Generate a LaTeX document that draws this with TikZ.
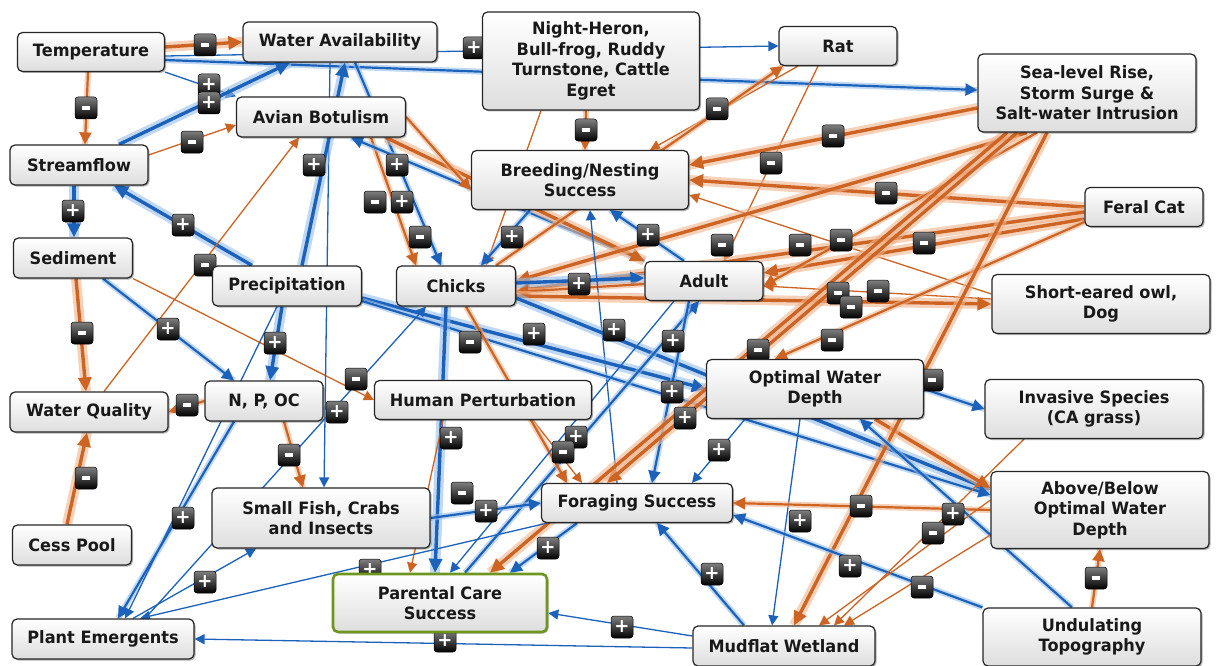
\documentclass[tikz,border=0pt]{standalone}
\usepackage{fontspec}
\newfontfamily\nodefont{DejaVu Sans}[FakeStretch=0.95]
\usetikzlibrary{arrows.meta,shadows,calc}
\definecolor{pb}{RGB}{28,98,186}
\definecolor{pbh}{RGB}{150,190,235}
\definecolor{no}{RGB}{205,100,35}
\definecolor{noh}{RGB}{240,180,140}
\definecolor{grn}{RGB}{110,150,30}
\pgfdeclarelayer{edges}\pgfdeclarelayer{signs}
\pgfsetlayers{edges,signs,main}
\tikzset{
  box/.style={draw=black!85, line width=1.2pt, rounded corners=5pt, top color=white, bottom color=black!13,
    align=center, text=black!90, inner sep=2pt,
    font=\nodefont\bfseries\fontsize{17}{20.5}\selectfont,
    drop shadow={shadow xshift=1.5pt, shadow yshift=-1.5pt, opacity=0.3, fill=black}},
  pbox/.style={box, draw=grn, line width=2.6pt},
  sg/.style={rounded corners=3pt, top color=black!50, bottom color=black, draw=black, line width=0.5pt,
    minimum width=22pt, minimum height=22pt, inner sep=0pt, text=white,
    font=\nodefont\bfseries\fontsize{19}{19}\selectfont},
  P1/.style={draw=pb, line width=1.3pt, -{Triangle[length=10pt,width=10pt]}},
  P2/.style={draw=pb, line width=2.2pt, -{Triangle[length=12pt,width=12pt]},
    preaction={draw=pbh, line width=6pt, arrows=-, draw opacity=0.6}},
  P3/.style={draw=pb, line width=3.4pt, -{Triangle[length=14pt,width=13pt]},
    preaction={draw=pbh, line width=10pt, arrows=-, draw opacity=0.6}},
  N1/.style={draw=no, line width=1.3pt, -{Triangle[length=10pt,width=10pt]}},
  N2/.style={draw=no, line width=2.2pt, -{Triangle[length=12pt,width=12pt]},
    preaction={draw=noh, line width=6pt, arrows=-, draw opacity=0.6}},
  N3/.style={draw=no, line width=3.4pt, -{Triangle[length=14pt,width=13pt]},
    preaction={draw=noh, line width=10pt, arrows=-, draw opacity=0.6}},
}
\begin{document}
\begin{tikzpicture}[x=1pt,y=-1pt]
\useasboundingbox (0,0) rectangle (1217,666);
% ---------- nodes ----------
\node[box, minimum width=147pt, minimum height=39pt] (temp) at (91,52) {Temperature};
\node[box, minimum width=194pt, minimum height=40pt] (wava) at (340,42) {Water Availability};
\node[box, minimum width=217pt, minimum height=98pt] (heron) at (591,61) {Night-Heron,\\Bull-frog, Ruddy\\Turnstone, Cattle\\Egret};
\node[box, minimum width=118pt, minimum height=39pt] (rat) at (838,46) {Rat};
\node[box, minimum width=218pt, minimum height=78pt] (sea) at (1087,93) {Sea-level Rise,\\Storm Surge \&\\Salt-water Intrusion};
\node[box, minimum width=169pt, minimum height=40pt] (avian) at (321,117) {Avian Botulism};
\node[box, minimum width=138pt, minimum height=40pt] (stream) at (79,165) {Streamflow};
\node[box, minimum width=217pt, minimum height=59pt] (breed) at (580,180) {Breeding/Nesting\\Success};
\node[box, minimum width=118pt, minimum height=39pt] (cat) at (1144,207) {Feral Cat};
\node[box, minimum width=119pt, minimum height=40pt] (sed) at (73,258) {Sediment};
\node[box, minimum width=149pt, minimum height=40pt] (precip) at (287,286) {Precipitation};
\node[box, minimum width=119pt, minimum height=40pt] (chicks) at (456,286) {Chicks};
\node[box, minimum width=118pt, minimum height=39pt] (adult) at (704,281) {Adult};
\node[box, minimum width=218pt, minimum height=59pt] (owl) at (1101,304) {Short-eared owl,\\Dog};
\node[box, minimum width=158pt, minimum height=40pt] (wq) at (89,412) {Water Quality};
\node[box, minimum width=118pt, minimum height=40pt] (npoc) at (264,401) {N, P, OC};
\node[box, minimum width=217pt, minimum height=39pt] (human) at (483,400) {Human Perturbation};
\node[box, minimum width=217pt, minimum height=59pt] (owd) at (815,389) {Optimal Water\\Depth};
\node[box, minimum width=218pt, minimum height=59pt] (inv) at (1094,409) {Invasive Species\\(CA grass)};
\node[box, minimum width=218pt, minimum height=60pt] (fish) at (321,518) {Small Fish, Crabs\\and Insects};
\node[box, minimum width=191pt, minimum height=39pt] (forage) at (637,503) {Foraging Success};
\node[box, minimum width=218pt, minimum height=77pt] (above) at (1100,510) {Above/Below\\Optimal Water\\Depth};
\node[box, minimum width=119pt, minimum height=40pt] (cess) at (72,545) {Cess Pool};
\node[pbox, minimum width=214pt, minimum height=58pt] (parent) at (440,603) {Parental Care\\Success};
\node[box, minimum width=182pt, minimum height=40pt] (plant) at (103,639) {Plant Emergents};
\node[box, minimum width=182pt, minimum height=40pt] (mud) at (784,646) {Mudflat Wetland};
\node[box, minimum width=218pt, minimum height=58pt] (undul) at (1092,637) {Undulating\\Topography};
% ---------- connectors ----------
\begin{pgfonlayer}{edges}
\fill[white] (0,0) rectangle (1217,666);
\draw[N3] ([yshift=5]temp.east) -- (wava.west);
\draw[P1] ([yshift=-4]temp.east) -- (rat.west);
\draw[P2] ([yshift=-8]temp.east) -- ([yshift=3]sea.west);
\draw[N2] ([xshift=-3]temp.south) -- ([xshift=6]stream.north);
\draw[P1] (temp.south east) -- (avian.north west);
\draw[P3] ([xshift=40]stream.north) -- ([xshift=-50]wava.south);
\draw[N1] ([yshift=10]stream.east) -- ([yshift=-8]avian.west);
\draw[P3] ([xshift=-5]stream.south) -- ([xshift=1]sed.north);
\draw[P3] ([xshift=-35]precip.north) -- ([xshift=35]stream.south);
\draw[N3] ([xshift=3]sed.south) -- ([xshift=-3]wq.north);
\draw[P2] ([xshift=30]sed.south) -- ([xshift=-30]npoc.north);
\draw[N1] (sed.south east) -- (human.west);
\draw[N1] ([xshift=15]wq.north) -- ([xshift=-22]avian.south);
\draw[N3] ([xshift=-5]cess.north) -- ([xshift=-2]wq.south);
\draw[N2] (npoc.west) -- (wq.east);
\draw[N2] ([xshift=20]npoc.south) -- ([xshift=-18]fish.north);
\draw[P3] ([xshift=-5]precip.south) -- ([xshift=6]npoc.north);
\draw[P1] ([xshift=-10]wava.south) -- ([xshift=3]fish.north);
\draw[P3] ([xshift=15]precip.north) -- ([xshift=5]wava.south);
\draw[P2] ([xshift=15]wava.south) -- ([xshift=-15]chicks.north);
\draw[N2] ([xshift=50]avian.south) -- ([xshift=-40]chicks.north);
\draw[P2] (adult.north west) -- ([xshift=30]avian.south);
\draw[N3] ([xshift=65]avian.south) -- (adult.north west);
\draw[N2] (avian.east) -- ([yshift=-10]breed.west);
\draw[N2] ([xshift=-5]heron.south) -- ([xshift=5]breed.north);
\draw[N1] ([xshift=-50]heron.south) -- ([xshift=30]chicks.north);
\draw[N1] ([xshift=-40]rat.south) -- ([xshift=70]breed.north);
\draw[N2] ([xshift=40]chicks.north) -- ([xshift=-55]rat.south);
\draw[N1] ([xshift=-20]rat.south) -- ([xshift=20]adult.north);
\draw[N3] ([yshift=-15]sea.west) -- ([yshift=15]breed.east);
\draw[N3] (cat.west) -- (breed.east);
\draw[N1] ([yshift=10]owl.west) -- ([yshift=-15]breed.east);
\draw[N3] ([yshift=-5]cat.west) -- ([yshift=-5]chicks.east);
\draw[N3] ([xshift=-60]sea.south) -- ([yshift=5]chicks.east);
\draw[N3] ([yshift=-12]cat.west) -- ([yshift=8]adult.east);
\draw[N2] ([xshift=-50]sea.south) -- ([yshift=-5]adult.east);
\draw[N1] ([yshift=5]owl.west) -- ([yshift=-5]adult.east);
\draw[P3] ([yshift=3]chicks.east) -- ([yshift=3]adult.west);
\draw[N2] ([yshift=-3]adult.west) -- ([yshift=-6]chicks.east);
\draw[P2] ([xshift=-20]adult.north) -- ([xshift=30]breed.south);
\draw[P2] ([xshift=-50]breed.south) -- ([xshift=25]chicks.north);
\draw[P1] ([xshift=-20]forage.north) -- ([xshift=10]breed.south);
\draw[N3] ([yshift=-10]chicks.east) -- (owl.west);
\draw[P3] ([yshift=-12]chicks.east) -- ([yshift=20]above.west);
\draw[P3] ([yshift=-12]precip.east) -- (owd.west);
\draw[N3] ([xshift=60]owd.south) -- ([yshift=22]above.west);
\draw[P2] ([yshift=-15]precip.east) -- ([yshift=15]above.west);
\draw[P2] (owd.east) -- (inv.west);
\draw[P2] ([xshift=25]parent.north) -- ([xshift=-5]adult.south);
\draw[P2] ([xshift=-15]adult.south) -- ([xshift=15]forage.north);
\draw[N3] ([xshift=-70]sea.south) -- ([xshift=-30]forage.north);
\draw[P1] ([xshift=-70]owd.south) -- ([xshift=55]forage.north);
\draw[N3] ([xshift=-80]sea.south) -- ([xshift=50]parent.north);
\draw[N2] ([yshift=-15]cat.west) -- ([xshift=-40]owd.north);
\draw[N1] ([xshift=50]human.south) -- ([xshift=-55]forage.north);
\draw[N2] ([xshift=10]chicks.south) -- ([xshift=-70]forage.north);
\draw[P3] ([xshift=-10]chicks.south) -- ([xshift=-5]parent.north);
\draw[N1] ([xshift=-40]human.south) -- ([xshift=-30]parent.north);
\draw[P1] ([xshift=-30]adult.south) -- ([xshift=10]parent.north);
\draw[P2] (fish.east) -- (forage.west);
\draw[P2] ([xshift=-60]forage.south) -- ([xshift=70]parent.north);
\draw[P1] ([xshift=-90]forage.south) -- ([xshift=37]plant.north);
\draw[P2] ([xshift=-40]mud.north) -- ([xshift=20]forage.south);
\draw[P1] ([yshift=10]mud.west) -- ([yshift=-10]parent.east);
\draw[P1] ([yshift=-2]mud.west) -- (plant.east);
\draw[P1] ([xshift=-15]owd.south) -- ([xshift=-12]mud.north);
\draw[N3] ([xshift=-40]sea.south) -- ([xshift=10]mud.north);
\draw[N2] (above.west) -- (forage.east);
\draw[N2] (undul.north) -- (above.south);
\draw[P2] (undul.north west) -- ([yshift=-12]forage.east);
\draw[P2] ([xshift=-20]undul.north) -- ([xshift=45]owd.south);
\draw[N1] ([yshift=10]above.west) -- ([xshift=35]mud.north);
\draw[N1] ([xshift=-70]inv.south) -- ([xshift=50]mud.north);
\draw[N1] ([yshift=-25]above.west) -- ([xshift=60]mud.north);
\draw[P2] ([xshift=-30]npoc.south) -- ([xshift=15]plant.north);
\draw[P1] ([xshift=30]plant.north) -- ([xshift=-65]fish.south);
\draw[P1] ([xshift=-10]precip.south) -- ([xshift=22]plant.north);
\draw[P1] ([xshift=42]plant.north) -- ([xshift=-30]chicks.south);
\end{pgfonlayer}
% ---------- signs ----------
\begin{pgfonlayer}{signs}
\foreach \x/\y [count=\i] in {209/85,209/103,474/48,314/165,397/165,402/202,512/237,648/235,73/211,183/225,
  168/329,275/343,337/412,183/518,205/582,370/570,445/641,622/627,579/284,534/334,614/330,673/341,
  672/392,685/418,719/450,451/438,576/437,486/511,548/548,712/574,800/521,850/566,953/514}
  \node[sg] (p\i) at (\x,\y) {+};
\foreach \x/\y [count=\i] in {205/45,192/142,86/108,586/130,717/109,833/136,771/163,886/193,375/202,420/237,
  722/245,800/245,841/240,924/243,205/265,82/333,356/379,187/405,289/455,86/478,470/342,758/350,
  832/340,838/293,851/307,878/291,932/380,563/452,462/493,861/506,933/533,922/587,1096/578}
  \node[sg] (m\i) at (\x,\y) {\rule{8pt}{3.5pt}};
\end{pgfonlayer}
\end{tikzpicture}
\end{document}
